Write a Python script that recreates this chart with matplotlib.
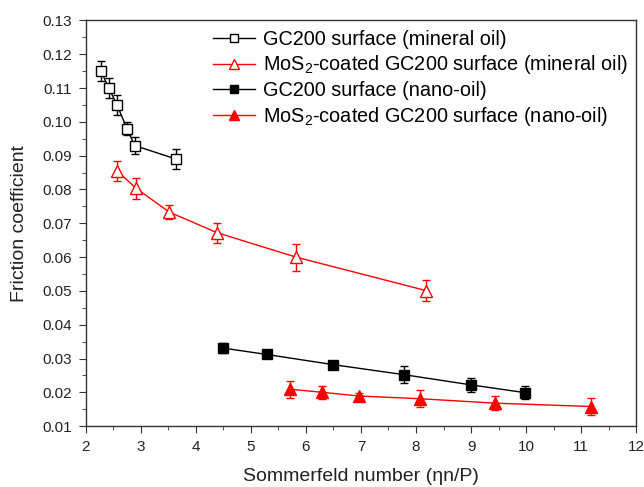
import numpy as np
import matplotlib
matplotlib.use("Agg")
import matplotlib.pyplot as plt
from matplotlib.lines import Line2D
from matplotlib.ticker import MultipleLocator, FormatStrFormatter

plt.rcParams['font.family'] = ['Liberation Sans', 'DejaVu Sans']
plt.rcParams['mathtext.fontset'] = 'custom'
plt.rcParams['mathtext.rm'] = 'Liberation Sans'

# GC200 surface, mineral oil
x_gc_min = [2.28, 2.42, 2.57, 2.75, 2.89, 3.64]
y_gc_min = [0.115, 0.110, 0.105, 0.098, 0.093, 0.089]
e_gc_min = [0.003, 0.003, 0.003, 0.002, 0.0025, 0.003]

# MoS2-coated GC200, mineral oil
x_mo_min = [2.57, 2.92, 3.52, 4.39, 5.82, 8.18]
y_mo_min = [0.0855, 0.0803, 0.0733, 0.0672, 0.0600, 0.0501]
e_mo_min = [0.003, 0.003, 0.002, 0.003, 0.004, 0.003]

# GC200 surface, nano-oil
x_gc_nano = [4.49, 5.29, 6.49, 7.79, 9.00, 9.98]
y_gc_nano = [0.0331, 0.0312, 0.0282, 0.0252, 0.0222, 0.0199]
e_gc_nano = [0.0015, 0.001, 0.001, 0.0025, 0.002, 0.002]

# MoS2-coated GC200, nano-oil
x_mo_nano = [5.72, 6.30, 6.97, 8.08, 9.43, 11.18]
y_mo_nano = [0.0209, 0.0200, 0.0189, 0.0181, 0.0168, 0.0158]
e_mo_nano = [0.0025, 0.002, 0.001, 0.0025, 0.002, 0.0025]

labels = ['GC200 surface (mineral oil)',
          'MoS$_2$-coated GC200 surface (mineral oil)',
          'GC200 surface (nano-oil)',
          'MoS$_2$-coated GC200 surface (nano-oil)']

fig = plt.figure(figsize=(6.44, 4.87), dpi=100)
ax = fig.add_axes([0.133, 0.125, 0.855, 0.833])

styles = [
    dict(color='black', marker='s', mfc='white', mec='black', ms=7),
    dict(color='red', marker='^', mfc='white', mec='red', ms=8),
    dict(color='black', marker='s', mfc='black', mec='black', ms=7),
    dict(color='red', marker='^', mfc='red', mec='red', ms=8),
]
series = [(x_gc_min, y_gc_min, e_gc_min), (x_mo_min, y_mo_min, e_mo_min),
          (x_gc_nano, y_gc_nano, e_gc_nano), (x_mo_nano, y_mo_nano, e_mo_nano)]

handles = []
for (xs, ys, es), st in zip(series, styles):
    ax.errorbar(xs, ys, yerr=es, lw=1, mew=1, capsize=3, elinewidth=1, **st)
    hs = dict(st)
    hs['ms'] = 6 if hs['marker'] == 's' else 7.5
    handles.append(Line2D([], [], lw=1, mew=1, **hs))

ax.set_xlim(2, 12)
ax.set_ylim(0.01, 0.13)
ax.xaxis.set_major_locator(MultipleLocator(1))
ax.xaxis.set_minor_locator(MultipleLocator(0.5))
ax.yaxis.set_major_locator(MultipleLocator(0.01))
ax.yaxis.set_minor_locator(MultipleLocator(0.005))
ax.yaxis.set_major_formatter(FormatStrFormatter('%.2f'))
ax.tick_params(which='both', direction='out', top=False, right=False, labelsize=11,
               color='#333333', labelcolor='#222222')
ax.tick_params(which='major', length=5, pad=5)
ax.tick_params(which='minor', length=3)
for s in ax.spines.values():
    s.set_linewidth(1)
    s.set_color('#333333')

ax.set_xlabel('Sommerfeld number (\u03b7n/P)', fontsize=14, labelpad=10, color='#222222')
ax.set_ylabel('Friction coefficient', fontsize=14, labelpad=10, color='#222222')

leg = fig.legend(handles, labels, loc='upper left', bbox_to_anchor=(0.331, 0.939),
                 fontsize=14.3, frameon=False, borderpad=0, borderaxespad=0,
                 handlelength=2.1, handletextpad=0.4, labelspacing=0.24)

fig.savefig('out.png', dpi=100)
